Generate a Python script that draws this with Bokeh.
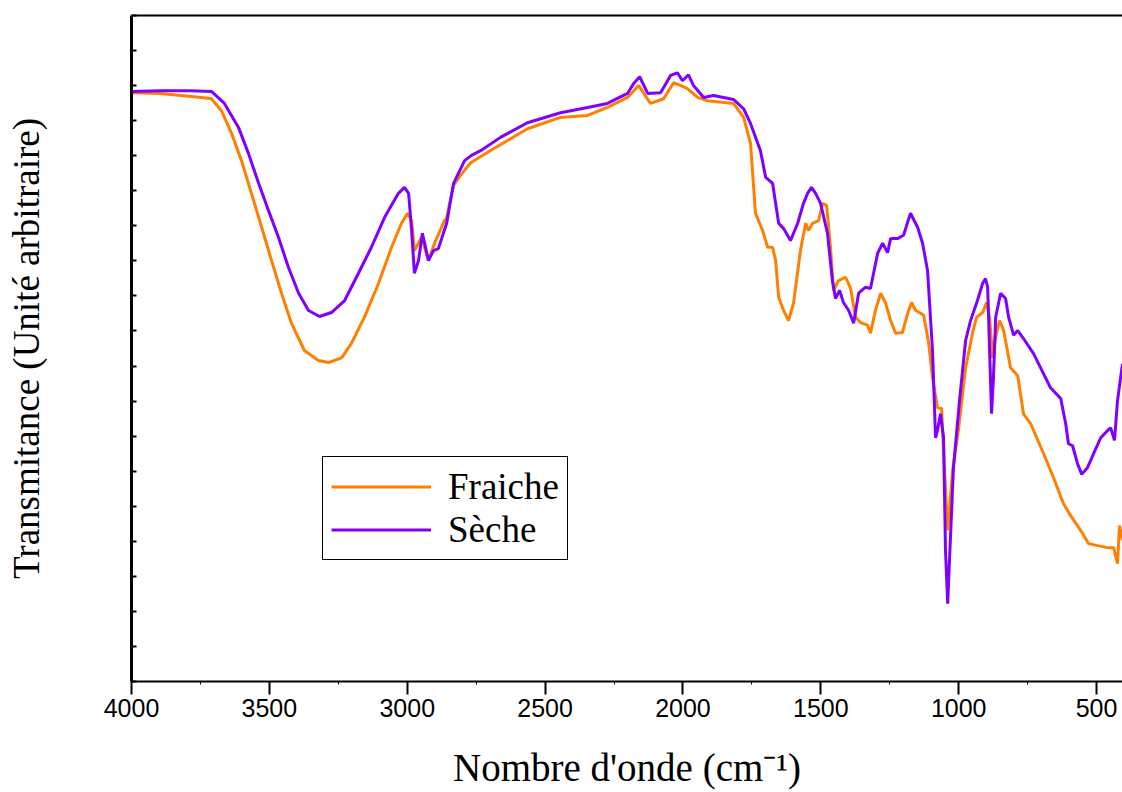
from bokeh.plotting import figure
from bokeh.models import FixedTicker, LinearAxis, CustomJSTickFormatter, Legend, LegendItem, Range1d
from bokeh.embed import file_html
from bokeh.resources import INLINE

# Wavenumbers (cm-1) and transmittance (arbitrary units)
fr_wn = [4000, 3895, 3746, 3710, 3674, 3637, 3601, 3565, 3528, 3492, 3456, 3420, 3373, 3322, 3285,
         3238, 3202, 3155, 3104, 3057, 3021, 2999, 2984, 2974, 2948, 2923, 2901, 2865, 2858, 2832,
         2807, 2770, 2687, 2564, 2444, 2346, 2274, 2201, 2161, 2118, 2070, 2034, 2009, 1983, 1947,
         1911, 1817, 1780, 1755, 1737, 1711, 1693, 1675, 1664, 1653, 1635, 1617, 1599, 1574, 1555,
         1545, 1530, 1508, 1494, 1479, 1465, 1454, 1436, 1410, 1392, 1374, 1356, 1331, 1320, 1302,
         1283, 1265, 1247, 1229, 1204, 1185, 1171, 1156, 1138, 1127, 1109, 1095, 1077, 1062, 1055,
         1040, 1022, 1000, 975, 950, 935, 913, 899, 888, 877, 866, 852, 837, 812, 786,
         765, 739, 692, 656, 620, 594, 558, 529, 496, 460, 438, 424, 417, 406]
fr_t = [88.4, 88.3, 87.7, 87.5, 85.7, 82.3, 78.2, 73.3, 68.2, 63.2, 58.3, 53.8, 49.7, 48.2, 47.9,
        48.6, 50.8, 54.7, 59.8, 65.2, 68.8, 70.3, 69.2, 64.7, 66.7, 63.2, 65.8, 69.2, 69.5, 74.5,
        76.0, 77.9, 80.0, 83.0, 84.7, 85.0, 86.2, 87.7, 89.5, 86.8, 87.5, 89.9, 89.5, 89.0, 87.7,
        87.2, 86.8, 84.7, 80.8, 70.3, 67.7, 65.2, 65.2, 63.2, 57.7, 55.7, 54.2, 56.8, 64.7, 68.8,
        67.7, 68.8, 69.2, 71.8, 71.5, 65.2, 58.7, 60.2, 60.7, 59.0, 54.7, 53.9, 53.5, 52.3, 55.7,
        58.3, 56.8, 54.2, 52.3, 52.4, 55.3, 56.9, 55.7, 55.3, 55.0, 50.8, 45.6, 41.1, 41.0, 34.7,
        22.7, 31.7, 38.1, 47.1, 52.3, 54.7, 55.4, 56.9, 54.7, 48.6, 51.7, 54.2, 52.7, 47.1, 45.9,
        40.2, 38.7, 34.2, 30.6, 26.7, 24.9, 22.7, 20.7, 20.4, 20.1, 20.1, 17.7, 23.4, 21.2]

se_wn = [4000, 3895, 3786, 3710, 3663, 3612, 3576, 3539, 3503, 3467, 3431, 3394, 3358, 3318, 3275,
         3227, 3177, 3130, 3082, 3032, 3010, 2995, 2984, 2974, 2959, 2945, 2923, 2905, 2887, 2857,
         2832, 2792, 2767, 2734, 2662, 2564, 2444, 2346, 2274, 2201, 2179, 2157, 2128, 2081, 2045,
         2020, 2002, 1980, 1962, 1925, 1889, 1817, 1780, 1755, 1719, 1700, 1675, 1653, 1635, 1610,
         1584, 1563, 1548, 1534, 1519, 1501, 1476, 1458, 1447, 1432, 1418, 1399, 1381, 1363, 1338,
         1320, 1294, 1276, 1258, 1247, 1222, 1200, 1175, 1149, 1131, 1113, 1095, 1084, 1077, 1066,
         1055, 1048, 1040, 1033, 1019, 997, 975, 957, 932, 913, 903, 895, 888, 881, 874,
         866, 848, 830, 819, 801, 786, 765, 728, 703, 667, 630, 612, 602, 587, 569,
         554, 533, 511, 485, 460, 449, 435, 424, 406]
se_t = [88.6, 88.7, 88.7, 88.6, 86.8, 83.2, 79.3, 74.8, 70.7, 66.7, 62.2, 58.3, 55.7, 54.8, 55.4,
        57.2, 61.3, 65.2, 69.7, 73.3, 74.2, 73.3, 67.7, 61.3, 63.2, 67.3, 63.2, 64.7, 65.0, 68.8,
        74.8, 78.2, 79.0, 79.7, 81.7, 83.9, 85.4, 86.2, 86.8, 88.3, 89.8, 90.8, 88.3, 88.4, 91.0,
        91.4, 90.2, 91.1, 89.5, 87.7, 88.0, 87.4, 86.0, 83.8, 79.7, 75.7, 74.8, 68.8, 68.0, 66.2,
        68.8, 71.8, 73.3, 74.2, 73.3, 71.8, 67.3, 60.2, 57.5, 58.7, 56.9, 55.7, 53.8, 58.3, 59.2,
        59.0, 64.3, 65.8, 64.4, 66.5, 66.5, 67.0, 70.3, 68.2, 65.8, 61.7, 49.7, 36.6, 37.7, 40.2,
        36.6, 19.7, 11.7, 18.6, 32.1, 42.2, 51.2, 54.2, 57.2, 59.8, 60.5, 59.2, 49.7, 40.2, 45.6,
        54.7, 58.3, 57.5, 54.7, 52.0, 52.7, 51.5, 49.2, 47.1, 44.1, 42.5, 38.7, 35.7, 35.4, 32.7,
        31.1, 32.1, 34.2, 36.6, 37.7, 38.1, 36.2, 42.2, 47.7]

x_major = [4000, 3500, 3000, 2500, 2000, 1500, 1000, 500]
x_minor = [3750, 3250, 2750, 2250, 1750, 1250, 750]
y_ticks = [k * 100 / 19 for k in range(20)]

names = ["Fraiche", "Sèche"]
colors = ["#FF8000", "#8000FF"]

p = figure(width=1122, height=792, output_backend="svg", toolbar_location=None,
           x_range=Range1d(4000, 406), y_range=Range1d(0, 100),
           min_border_left=131, min_border_right=0, min_border_top=15, min_border_bottom=111)
p.xgrid.visible = False
p.ygrid.visible = False
p.outline_line_color = None
p.background_fill_color = "white"

r1 = p.line(fr_wn, fr_t, line_color=colors[0], line_width=3)
r2 = p.line(se_wn, se_t, line_color=colors[1], line_width=3)

xa = p.xaxis[0]
xa.ticker = FixedTicker(ticks=x_major, minor_ticks=x_minor)
xa.axis_line_width = 2
xa.major_tick_line_width = 2
xa.major_tick_out = 13
xa.major_tick_in = 0
xa.minor_tick_out = 3
xa.minor_tick_in = 0
xa.major_label_text_font = "Liberation Sans"
xa.major_label_text_font_size = "25px"
xa.major_label_text_color = "black"
xa.major_label_standoff = 4
xa.axis_label = "Nombre d'onde (cm⁻¹)"
xa.axis_label_text_font = "Liberation Serif"
xa.axis_label_text_font_size = "39px"
xa.axis_label_text_font_style = "normal"
xa.axis_label_text_color = "black"
xa.axis_label_standoff = 26

ya = p.yaxis[0]
ya.ticker = FixedTicker(ticks=y_ticks)
ya.formatter = CustomJSTickFormatter(code="return ''")
ya.axis_line_width = 3
ya.major_tick_in = 5
ya.major_tick_out = 0
ya.major_tick_line_width = 2
ya.minor_tick_in = 0
ya.minor_tick_out = 0
ya.major_label_text_font_size = "1px"
ya.axis_label = "Transmitance (Unité arbitraire)"
ya.axis_label_text_font = "Liberation Serif"
ya.axis_label_text_font_size = "37px"
ya.axis_label_text_font_style = "normal"
ya.axis_label_text_color = "black"
ya.axis_label_standoff = 85

top = LinearAxis(ticker=FixedTicker(ticks=[]), formatter=CustomJSTickFormatter(code="return ''"),
                 major_tick_in=0, major_tick_out=0, minor_tick_in=0, minor_tick_out=0,
                 axis_line_width=2, major_label_text_font_size="1px")
p.add_layout(top, "above")

legend = Legend(items=[LegendItem(label=names[0], renderers=[r1]),
                       LegendItem(label=names[1], renderers=[r2])],
                location=(191, 121))
legend.label_text_font = "Liberation Serif"
legend.label_text_font_size = "37px"
legend.label_text_color = "black"
legend.glyph_width = 100
legend.glyph_height = 33
legend.label_height = 33
legend.label_standoff = 17
legend.spacing = 0
legend.padding = 8
legend.margin = 0
legend.border_line_color = "black"
legend.border_line_alpha = 1
legend.border_line_width = 1.5
legend.background_fill_color = "white"
legend.background_fill_alpha = 1
p.add_layout(legend, "center")

open("out.html", "w").write(file_html(p, INLINE))
